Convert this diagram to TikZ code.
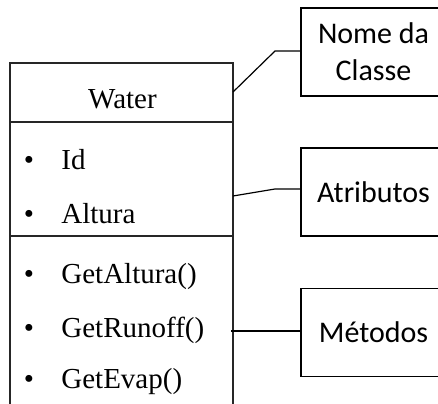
\documentclass[tikz,border=0pt]{standalone}
\usepackage{fontspec}
\setmainfont{Liberation Serif}
\newfontfamily\labelfont{Carlito}
\begin{document}
\begin{tikzpicture}[x=0.5pt,y=-0.5pt,
  umlline/.style={draw=black!85, line width=0.75pt},
  member/.style={anchor=base west, inner sep=0pt, font=\fontsize{14.5}{16}\selectfont},
  bulletmark/.style={anchor=base, inner sep=0pt, font=\fontsize{14.5}{16}\selectfont},
  tagbox/.style={draw, line width=0.75pt, minimum width=72.5pt, minimum height=44pt,
    inner sep=0pt, align=center, font=\labelfont\fontsize{15}{18.5}\selectfont},
  leader/.style={draw, line width=0.6pt}]
\useasboundingbox (0,0) rectangle (438,403);

% class box (open at the bottom edge)
\coordinate (bl) at (10,410);
\coordinate (tl) at (10,63);
\coordinate (tr) at (233,63);
\coordinate (br) at (233,410);
\draw[umlline] (bl) -- (tl) -- (tr) -- (br);
\coordinate (s1l) at (10,122);  \coordinate (s1r) at (233,122);
\coordinate (s2l) at (10,236);  \coordinate (s2r) at (233,236);
\draw[umlline] (s1l) -- (s1r);
\draw[umlline] (s2l) -- (s2r);

% class name
\node[anchor=base, inner sep=0pt, font=\fontsize{14.5}{16}\selectfont] (cname) at (122.5,108) {Water};

% attributes
\node[bulletmark] (b1) at (29,169) {•};
\node[member] (a1) at (61,169) {Id};
\node[bulletmark] (b2) at (29,223) {•};
\node[member] (a2) at (61,223) {Altura};

% methods
\node[bulletmark] (b3) at (29,283) {•};
\node[member] (m1) at (61,283) {GetAltura()};
\node[bulletmark] (b4) at (29,337) {•};
\node[member] (m2) at (61,337) {GetRunoff()};
\node[bulletmark] (b5) at (29,388) {•};
\node[member] (m3) at (61,388) {GetEvap()};

% callout labels
\node[tagbox] (tname) at (373.5,52) {Nome da\\Classe};
\node[tagbox] (tattr) at (373.5,192) {Atributos};
\node[tagbox] (tmeth) at (373.5,332.5) {Métodos};

% leader lines
\coordinate (pname) at (233,92);
\coordinate (pattr) at (233,196);
\coordinate (pmeth) at (231,331);
\coordinate (kname) at (275,51);
\coordinate (kattr) at (275,189);
\draw[leader] (pname) -- (kname) -- (tname.west |- kname);
\draw[leader] (pattr) -- (kattr) -- (tattr.west |- kattr);
\draw[leader] (pmeth) -- (tmeth.west |- pmeth);
\end{tikzpicture}
\end{document}
